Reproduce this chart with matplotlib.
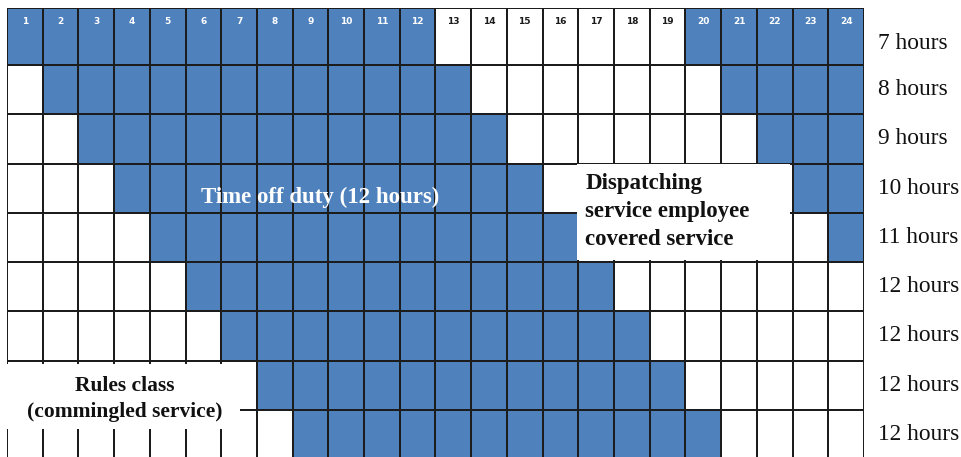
import matplotlib
matplotlib.use("Agg")
import matplotlib.pyplot as plt
from matplotlib.colors import ListedColormap
from matplotlib.patches import Rectangle
import numpy as np

# Hours of the day (columns) and the off-duty periods for each schedule row
hours = list(range(1, 25))
off_periods = [
    [(1, 12), (20, 24)],
    [(2, 13), (21, 24)],
    [(3, 14), (22, 24)],
    [(4, 15), (23, 24)],
    [(5, 16), (24, 24)],
    [(6, 17)],
    [(7, 18)],
    [(8, 19)],
    [(9, 20)],
]
row_labels = ["7 hours", "8 hours", "9 hours", "10 hours", "11 hours",
              "12 hours", "12 hours", "12 hours", "12 hours"]
off_duty_label = "Time off duty (12 hours)"
dispatch_label = "Dispatching\nservice employee\ncovered service"
rules_label = "Rules class\n(commingled service)"

BLUE = "#4F81BD"
SERIF = "Liberation Serif"

# Build the cell matrix: 1 = off duty (blue), 0 = on duty / free (white)
n_rows, n_cols = len(off_periods), len(hours)
cells = np.zeros((n_rows, n_cols))
for r, periods in enumerate(off_periods):
    for a, b in periods:
        for h in range(a, b + 1):
            cells[r, hours.index(h)] = 1

W, H = 962, 457
fig = plt.figure(figsize=(W / 100, H / 100), dpi=100)
fig.patch.set_facecolor("white")

# Grid axes placed in pixel terms: left 7, right 864, top 8, bottom 459
left, right, top, bottom = 7, 864, 8, 459
ax = fig.add_axes([left / W, 1 - bottom / H, (right - left) / W, (bottom - top) / H])

# First (header) row is a little taller than the others
row_h = [1.16] + [1.0] * (n_rows - 1)
y_edges = np.concatenate([[0], np.cumsum(row_h)])
x_edges = np.arange(n_cols + 1)

ax.pcolormesh(x_edges, y_edges, cells, cmap=ListedColormap(["white", BLUE]),
              vmin=0, vmax=1, edgecolors="#1c1c1c", linewidth=1.3)
ax.set_xlim(0, n_cols)
ax.set_ylim(y_edges[-1], 0)
ax.axis("off")

# Hour numbers in the header row
for c, h in enumerate(hours):
    col = "white" if cells[0, c] == 1 else "#1a1a1a"
    ax.text(c + 0.5, 0.28, str(h), ha="center", va="center", fontsize=6.5,
            fontweight="bold", color=col, family="DejaVu Sans")

# Row labels on the right
for r, lab in enumerate(row_labels):
    y = (y_edges[r] + y_edges[r + 1]) / 2 if r else 0.73
    ax.text(24.39, y, lab, ha="left", va="center", fontsize=16.8,
            family=SERIF, color="#111111", clip_on=False)

# Off-duty caption
ax.text(8.77, 3.84, off_duty_label, ha="center", va="center", fontsize=16.5,
        fontweight="bold", family=SERIF, color="white")

# Dispatching service box
ax.add_patch(Rectangle((15.96, 3.17), 5.97, 1.95, facecolor="white",
                       edgecolor="none", zorder=3))
ax.text(16.2, 4.13, dispatch_label, ha="left", va="center", fontsize=16.5,
        fontweight="bold", family=SERIF, color="#111111", zorder=4,
        linespacing=1.45)

# Rules class box
ax.add_patch(Rectangle((0, 7.24), 6.52, 1.31, facecolor="white",
                       edgecolor="none", zorder=3))
ax.text(3.3, 7.94, rules_label, ha="center", va="center", fontsize=15.5,
        fontweight="bold", family=SERIF, color="#111111", zorder=4,
        linespacing=1.4)

fig.savefig("out.png", dpi=100, facecolor="white")
